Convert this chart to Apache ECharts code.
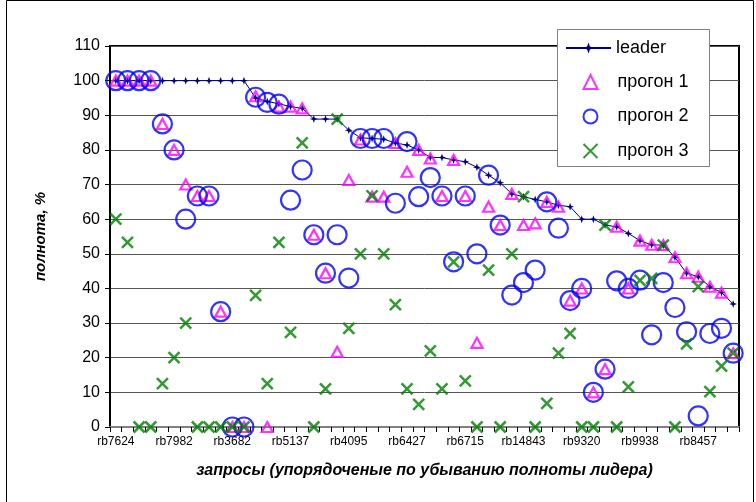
<!DOCTYPE html>
<html>
<head>
<meta charset="utf-8">
<script src="https://cdn.jsdelivr.net/npm/echarts@6/dist/echarts.min.js"></script>
<style>
  html, body { margin: 0; padding: 0; background: #fff; }
  #chart { width: 756px; height: 502px; }
</style>
</head>
<body>
<div id="chart"></div>
<script>
// Query labels: only every fifth query is named on the axis
const labelledQueries = ['rb7624', 'rb7982', 'rb3682', 'rb5137', 'rb4095', 'rb6427',
  'rb6715', 'rb14843', 'rb9320', 'rb9938', 'rb8457'];
const queryCount = 54;

// Recall of the leading system per query (sorted descending)
const leader = [100, 100, 100, 100, 100, 100, 100, 100, 100, 100, 100, 100,
  95, 94, 93.3, 92.5, 92, 88.9, 88.9, 88.9, 85.7, 83.5, 83.3, 83.1, 82, 81.4,
  80, 77.8, 77.8, 77.1, 76.6, 75, 72.7, 70.5, 67.3, 66.5, 65.7, 65, 64, 63.6,
  60, 60, 58.3, 57.8, 55.9, 53.8, 52.6, 52.5, 49, 44.4, 43.4, 40.5, 38.8, 35.5];

// Recall of run 1
const run1 = [100, 100, 100, 100, 87.5, 80, 70, 66.7, 66.7, 33.3, 0, 0,
  95.5, 0, 92.5, 92.5, 92, 55.5, 44.4, 21.7, 71.3, 83, 66.5, 66.5, 82, 73.7,
  80, 77.5, 66.7, 77.1, 66.7, 24.3, 63.6, 58.3, 67.3, 58.3, 58.8, 65, 63.6, 36.5,
  40, 10, 16.7, 57.8, 40, 53.8, 52.6, 52.5, 49, 44.4, 43.4, 40.5, 38.8, 21.3];

// Recall of run 2
const run2 = [100, 100, 100, 100, 87.5, 80, 60, 66.7, 66.7, 33.3, 0, 0,
  95.2, 93.7, 93.2, 65.5, 74.2, 55.5, 44.4, 55.5, 43, 83.3, 83.3, 83.3, 64.6, 82.4,
  66.5, 72, 66.7, 47.7, 66.7, 50, 72.7, 58.3, 38.1, 41.7, 45.3, 65, 57.4, 36.5,
  40, 10, 16.7, 42.2, 40, 42.4, 26.6, 41.7, 34.5, 27.5, 3.2, 27, 28.5, 21.3];

// Recall of run 3
const run3 = [60, 53.3, 0, 0, 12.5, 20, 30, 0, 0, 0, 0, 0,
  38, 12.5, 53.3, 27.3, 82, 0, 11, 88.9, 28.5, 50, 66.7, 50, 35.3, 11,
  6.5, 22, 11, 47.7, 13.3, 0, 45.3, 0, 50, 66.5, 0, 6.8, 21.3, 27,
  0, 0, 58.3, 0, 11.6, 42.3, 42.9, 52.5, 0, 24, 40.5, 10.2, 17.6, 21.3];

const yTicks = [0, 10, 20, 30, 40, 50, 60, 70, 80, 90, 100, 110];

// Axis categories: named every fifth position, blank otherwise
const categories = [];
for (let i = 0; i < queryCount; i++) {
  categories.push(i % 5 === 0 ? labelledQueries[i / 5] : '');
}

const FONT = 'Liberation Sans, Arial, sans-serif';
const starPath = 'path://M0,-10 L2.5,-2.5 L10,0 L2.5,2.5 L0,10 L-2.5,2.5 L-10,0 L-2.5,-2.5 Z';
const crossPath = 'path://M0,0 L10,10 M10,0 L0,10';
const legendText = { fontFamily: FONT, fontSize: 18, color: '#000', lineHeight: 20 };

const chart = echarts.init(document.getElementById('chart'), null, { renderer: 'canvas' });
chart.setOption({
  animation: false,
  backgroundColor: '#fff',
  grid: {
    left: 110, right: 17, top: 46, bottom: 75,
    show: true, borderColor: '#000', borderWidth: 2, backgroundColor: 'transparent'
  },
  legend: [
    {
      // line entry
      orient: 'vertical',
      left: 565, top: 38,
      padding: 0,
      itemWidth: 45,
      itemHeight: 14,
      textStyle: Object.assign({}, legendText, { padding: [0, 0, 0, 0] }),
      data: ['leader'],
      z: 10
    },
    {
      // marker entries
      orient: 'vertical',
      left: 581, top: 72,
      padding: 0,
      itemGap: 14.5,
      itemWidth: 14,
      itemHeight: 14,
      textStyle: Object.assign({}, legendText, { padding: [0, 0, 0, 15] }),
      data: ['прогон 1', 'прогон 2', 'прогон 3'],
      z: 10
    }
  ],
  xAxis: {
    type: 'category',
    data: categories,
    boundaryGap: true,
    name: 'запросы (упорядоченые по убыванию полноты лидера)',
    nameLocation: 'middle',
    nameGap: 36,
    nameTextStyle: { fontFamily: FONT, fontSize: 16, fontWeight: 'bold', fontStyle: 'italic', color: '#000' },
    axisLine: { show: true, lineStyle: { color: '#808080', width: 2 } },
    axisTick: { show: true, interval: 0, length: 5, lineStyle: { color: '#000', width: 1 } },
    axisLabel: { interval: 4, fontFamily: FONT, fontSize: 12, color: '#000', margin: 9 },
    splitLine: { show: false }
  },
  yAxis: {
    type: 'value',
    min: yTicks[0],
    max: yTicks[yTicks.length - 1],
    interval: 10,
    name: 'полнота, %',
    nameLocation: 'middle',
    nameGap: 62,
    nameRotate: 90,
    nameTextStyle: { fontFamily: FONT, fontSize: 15, fontWeight: 'bold', fontStyle: 'italic', color: '#000' },
    axisLine: { show: true, lineStyle: { color: '#000', width: 2 } },
    axisTick: { show: true, length: 5, lineStyle: { color: '#000', width: 1 } },
    axisLabel: { fontFamily: FONT, fontSize: 16, color: '#000', margin: 10 },
    splitLine: { show: true, lineStyle: { color: '#555', width: 1 } }
  },
  series: [
    {
      name: 'leader',
      type: 'line',
      data: leader,
      symbol: starPath,
      symbolSize: 8,
      showAllSymbol: true,
      lineStyle: { color: '#000080', width: 1 },
      itemStyle: { color: '#000080' },
      z: 2
    },
    {
      name: 'прогон 1',
      type: 'scatter',
      data: run1,
      symbol: 'triangle',
      symbolSize: [11, 10],
      itemStyle: { color: 'rgba(0,0,0,0)', borderColor: '#ff00ff', borderWidth: 2.2 },
      z: 3
    },
    {
      name: 'прогон 2',
      type: 'scatter',
      data: run2,
      symbol: 'circle',
      symbolSize: 19,
      itemStyle: { color: 'rgba(0,0,0,0)', borderColor: '#0000ff', borderWidth: 2.2 },
      z: 4
    },
    {
      name: 'прогон 3',
      type: 'scatter',
      data: run3,
      symbol: crossPath,
      symbolSize: 11,
      itemStyle: { color: 'none', borderColor: '#008000', borderWidth: 2.5 },
      z: 5
    }
  ],
  graphic: [
    {
      // outer frame of the chart area
      type: 'rect',
      left: 4, top: -2,
      shape: { width: 747, height: 506 },
      style: { fill: 'none', stroke: '#000', lineWidth: 1 },
      silent: true
    },
    {
      // legend box
      type: 'rect',
      shape: { x: 557.5, y: 29.5, width: 152, height: 137 },
      style: { fill: '#fff', stroke: '#808080', lineWidth: 1 },
      z: 8,
      silent: true
    }
  ]
});
</script>
</body>
</html>
